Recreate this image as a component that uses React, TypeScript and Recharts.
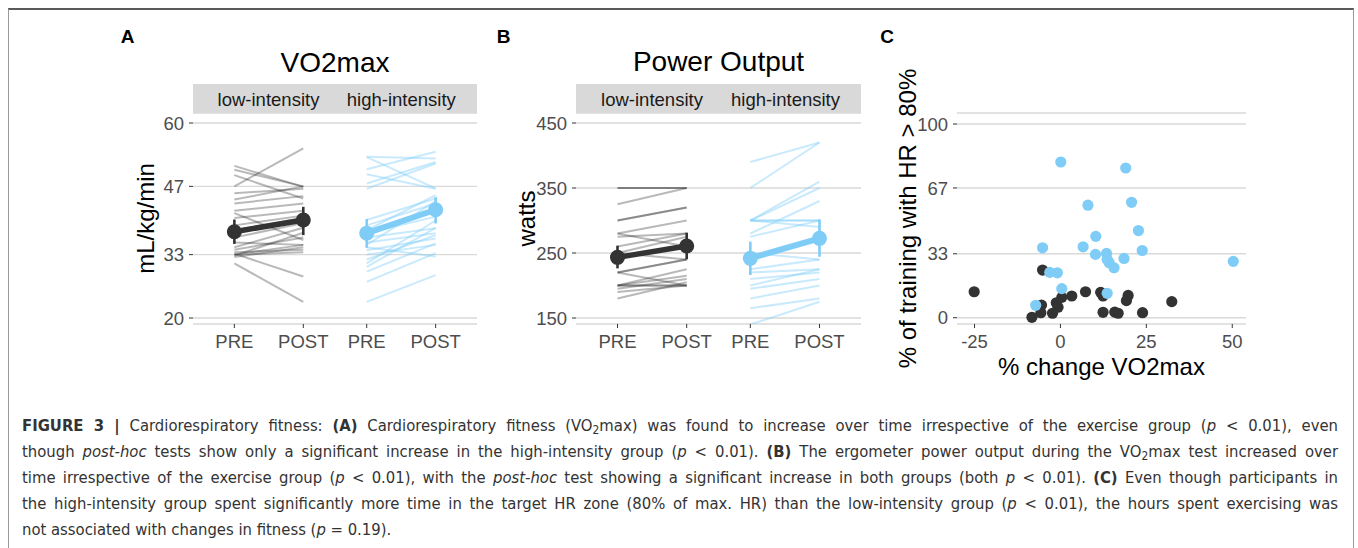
import React from 'react';
import {
  LineChart,
  Line,
  XAxis,
  YAxis,
  CartesianGrid,
  ErrorBar,
  ScatterChart,
  Scatter,
} from 'recharts';

const FONT = '"Liberation Sans", Arial, Helvetica, sans-serif';
const CAPTION_FONT = '"Liberation Sans Narrow", "Arial Narrow", "DejaVu Sans Condensed", sans-serif';
const DARK = '#333333';
const BLUE = '#7fcdf7';
const GRID = '#d9d9d9';
const TICK_TEXT = '#4d4d4d';

// shared x positions (two facets: PRE / POST each)
const timeLabels = ['PRE', 'POST', 'PRE', 'POST'];
const timePos = [1, 2, 2.92, 3.92];
const facetLabels = ['low-intensity', 'high-intensity'];

// Panel A – VO2max (mL/kg/min)
const vo2Ticks = [20, 33, 47, 60];
const lowVO2Pre = [51.2, 50.4, 49.3, 47.0, 45.6, 44.3, 43.5, 42.0, 41.5, 40.5, 39.0, 38.0, 36.5, 35.5, 34.5, 33.5, 33.0, 32.8, 32.5, 33.2, 31.2, 33.0, 34.0];
const lowVO2Post = [46.9, 47.0, 44.5, 54.8, 46.5, 47.0, 45.0, 43.5, 36.0, 42.0, 41.0, 40.5, 39.5, 35.0, 38.5, 34.0, 35.0, 37.5, 34.5, 28.5, 23.3, 33.5, 36.5];
const highVO2Pre = [53.1, 50.5, 49.5, 47.6, 46.5, 53.0, 40.1, 39.0, 38.0, 37.4, 36.5, 35.5, 35.0, 33.9, 33.0, 32.0, 31.2, 29.5, 27.4, 23.3, 34.5, 30.5];
const highVO2Post = [52.7, 54.1, 46.5, 52.0, 51.7, 46.6, 44.5, 43.5, 45.2, 40.8, 38.4, 37.4, 44.0, 36.3, 35.0, 37.0, 40.0, 35.3, 33.3, 28.8, 32.6, 38.5];
const lowVO2Mean = [37.7, 40.1];
const lowVO2Lo = [35.2, 37.0];
const lowVO2Hi = [40.2, 42.8];
const highVO2Mean = [37.4, 42.2];
const highVO2Lo = [34.4, 39.4];
const highVO2Hi = [40.3, 44.8];

// Panel B – Power output (watts)
const powTicks = [150, 250, 350, 450];
const lowPowPre = [350, 350, 325, 300, 300, 280, 275, 280, 260, 250, 250, 220, 220, 220, 200, 200, 195, 200, 200, 190, 180];
const lowPowPost = [350, 350, 350, 320, 320, 300, 280, 260, 280, 275, 240, 240, 240, 200, 225, 215, 210, 200, 200, 200, 205];
const highPowPre = [390, 350, 300, 300, 300, 300, 280, 275, 300, 225, 220, 200, 210, 195, 180, 165, 140, 250];
const highPowPost = [420, 420, 300, 300, 360, 350, 330, 300, 290, 240, 225, 225, 220, 210, 200, 180, 175, 240];
const lowPowMean = [243.3, 260.8];
const lowPowLo = [226.4, 240.3];
const lowPowHi = [261.3, 281.3];
const highPowMean = [241.8, 272.6];
const highPowLo = [216.2, 244.3];
const highPowHi = [267.4, 301.8];

// Panel C – scatter
const cXTicks = [-25, 0, 25, 50];
const cYTicks = [0, 33, 67, 100];
const lowChangeX = [-25.1, -5.2, 7.3, 11.7, 12.4, 3.3, 0.4, -1.2, -0.7, -2.3, -8.3, -5.5, -5.7, 12.4, 15.8, 16.8, 19.7, 19.2, 23.9, 32.4];
const lowHrY = [13.4, 24.6, 13.4, 13.1, 11.2, 11.2, 10.5, 7.7, 5.4, 2.3, 0.2, 6.5, 2.6, 2.8, 2.9, 2.3, 11.5, 8.8, 2.6, 8.3];
const highChangeX = [0.1, 19.0, 8.0, 20.7, 22.7, 10.3, -5.2, 6.6, 10.2, 13.4, 13.6, 14.2, 15.6, 18.5, 23.8, 50.3, -3.1, -0.9, 0.4, 13.6, -7.2];
const highHrY = [80.4, 77.3, 58.1, 59.6, 45.0, 42.0, 36.1, 36.6, 32.7, 33.2, 30.1, 28.4, 25.8, 30.6, 34.7, 29.1, 23.4, 23.2, 15.0, 12.6, 6.4];

type Pt = { x: number; y: number };

const pairLines = (pre: number[], post: number[], a: number, b: number): Pt[][] =>
  pre.map((v, i) => [
    { x: timePos[a], y: v },
    { x: timePos[b], y: post[i] },
  ]);

const meanData = (m: number[], lo: number[], hi: number[], a: number, b: number) =>
  [a, b].map((p, i) => ({ x: timePos[p], y: m[i], err: [m[i] - lo[i], hi[i] - m[i]] }));

const tickStyle = { fill: TICK_TEXT, fontSize: 18.5, fontFamily: FONT };

type PanelProps = {
  left: number;
  width: number;
  marginLeft: number;
  marginRight: number;
  yDomain: [number, number];
  yTicks: number[];
  yLabel: string;
  yLabelOffset: number;
  lowPre: number[];
  lowPost: number[];
  highPre: number[];
  highPost: number[];
  lowM: number[];
  lowLo: number[];
  lowHi: number[];
  highM: number[];
  highLo: number[];
  highHi: number[];
};

function PairedPanel(p: PanelProps) {
  const lowLines = pairLines(p.lowPre, p.lowPost, 0, 1);
  const highLines = pairLines(p.highPre, p.highPost, 2, 3);
  const lowMean = meanData(p.lowM, p.lowLo, p.lowHi, 0, 1);
  const highMean = meanData(p.highM, p.highLo, p.highHi, 2, 3);
  return (
    <div style={{ position: 'absolute', left: p.left, top: 0 }}>
      <LineChart
        width={p.width}
        height={400}
        margin={{ top: 113, right: p.marginRight, bottom: 36, left: p.marginLeft }}
      >
        <CartesianGrid vertical={false} stroke={GRID} strokeWidth={1.4} />
        <XAxis
          type="number"
          dataKey="x"
          domain={[0.4, 4.52]}
          allowDataOverflow
          ticks={timePos}
          tickFormatter={(_v: number, i: number) => timeLabels[i]}
          interval={0}
          axisLine={false}
          tickLine={{ stroke: DARK }}
          tickSize={4}
          tickMargin={7}
          height={40}
          tick={tickStyle}
        />
        <YAxis
          type="number"
          domain={p.yDomain}
          allowDataOverflow
          ticks={p.yTicks}
          interval={0}
          axisLine={false}
          tickLine={{ stroke: DARK }}
          tickSize={4}
          tickMargin={5}
          width={60}
          tick={tickStyle}
          label={{
            value: p.yLabel,
            angle: -90,
            position: 'insideLeft',
            offset: p.yLabelOffset,
            style: { textAnchor: 'middle', fontSize: 24, fill: '#000', fontFamily: FONT },
          }}
        />
        {lowLines.map((d, i) => (
          <Line
            key={'lo' + i}
            data={d}
            dataKey="y"
            stroke={DARK}
            strokeOpacity={0.34}
            strokeWidth={2}
            dot={false}
            activeDot={false}
            isAnimationActive={false}
          />
        ))}
        {highLines.map((d, i) => (
          <Line
            key={'hi' + i}
            data={d}
            dataKey="y"
            stroke={BLUE}
            strokeOpacity={0.42}
            strokeWidth={2}
            dot={false}
            activeDot={false}
            isAnimationActive={false}
          />
        ))}
        <Line
          data={lowMean}
          dataKey="y"
          stroke={DARK}
          strokeWidth={5.5}
          dot={{ r: 7.5, fill: DARK, stroke: DARK, strokeWidth: 0 }}
          activeDot={false}
          isAnimationActive={false}
        >
          <ErrorBar dataKey="err" direction="y" width={0} stroke={DARK} strokeWidth={2.6} />
        </Line>
        <Line
          data={highMean}
          dataKey="y"
          stroke={BLUE}
          strokeWidth={6}
          dot={{ r: 7.5, fill: BLUE, stroke: BLUE, strokeWidth: 0 }}
          activeDot={false}
          isAnimationActive={false}
        >
          <ErrorBar dataKey="err" direction="y" width={0} stroke={BLUE} strokeWidth={2.6} />
        </Line>
      </LineChart>
    </div>
  );
}

const Dot = (color: string) => (props: any) =>
  <circle cx={props.cx} cy={props.cy} r={5.6} fill={color} stroke="none" />;

function ScatterPanel() {
  const low = lowChangeX.map((x, i) => ({ x, y: lowHrY[i] }));
  const high = highChangeX.map((x, i) => ({ x, y: highHrY[i] }));
  return (
    <div style={{ position: 'absolute', left: 870, top: 0 }}>
      <ScatterChart width={400} height={400} margin={{ top: 113, right: 24, bottom: 21, left: 27 }}>
        <CartesianGrid vertical={false} stroke={GRID} strokeWidth={1.4} />
        <XAxis
          type="number"
          dataKey="x"
          domain={[-30.1, 54.0]}
          allowDataOverflow
          ticks={cXTicks}
          interval={0}
          axisLine={false}
          tickLine={{ stroke: DARK }}
          tickSize={4}
          tickMargin={7}
          height={55}
          tick={tickStyle}
          label={{
            value: '% change VO2max',
            position: 'insideBottom',
            offset: 4,
            style: { textAnchor: 'middle', fontSize: 24, fill: '#000', fontFamily: FONT },
          }}
        />
        <YAxis
          type="number"
          dataKey="y"
          domain={[-3.25, 105.7]}
          allowDataOverflow
          ticks={cYTicks}
          interval={0}
          axisLine={false}
          tickLine={{ stroke: DARK }}
          tickSize={4}
          tickMargin={5}
          width={60}
          tick={tickStyle}
          label={{
            value: '% of training with HR > 80%',
            angle: -90,
            position: 'insideLeft',
            offset: 10,
            style: { textAnchor: 'middle', fontSize: 24, fill: '#000', fontFamily: FONT },
          }}
        />
        <Scatter data={low} fill={DARK} shape={Dot(DARK)} isAnimationActive={false} />
        <Scatter data={high} fill={BLUE} shape={Dot(BLUE)} isAnimationActive={false} />
      </ScatterChart>
    </div>
  );
}

function Txt(props: {
  cx: number;
  cy: number;
  size: number;
  bold?: boolean;
  color?: string;
  children: React.ReactNode;
}) {
  const w = 400;
  const lh = 40;
  return (
    <div
      style={{
        position: 'absolute',
        left: props.cx - w / 2,
        top: props.cy - lh / 2,
        width: w,
        height: lh,
        lineHeight: lh + 'px',
        textAlign: 'center',
        fontSize: props.size,
        fontWeight: props.bold ? 700 : 400,
        color: props.color || '#000',
        fontFamily: FONT,
        whiteSpace: 'nowrap',
      }}
    >
      {props.children}
    </div>
  );
}

function Strip(props: { left: number; right: number; centers: number[] }) {
  return (
    <>
      <div
        style={{
          position: 'absolute',
          left: props.left,
          top: 84,
          width: props.right - props.left,
          height: 29,
          background: '#d9d9d9',
        }}
      />
      {facetLabels.map((l, i) => (
        <Txt key={l} cx={props.centers[i]} cy={99.5} size={18.5} color="#1a1a1a">
          {l}
        </Txt>
      ))}
    </>
  );
}

const Sub2 = () => (
  <sub style={{ fontSize: '0.72em', verticalAlign: '-0.25em', lineHeight: 0 }}>2</sub>
);
const P = () => <i>p</i>;

const captionLines: React.ReactNode[] = [
  <>
    <b>FIGURE 3 |</b> Cardiorespiratory fitness: <b>(A)</b> Cardiorespiratory fitness (VO<Sub2 />max) was
    found to increase over time irrespective of the exercise group (<P /> &lt; 0.01), even
  </>,
  <>
    though <i>post-hoc</i> tests show only a significant increase in the high-intensity group (<P /> &lt;
    0.01). <b>(B)</b> The ergometer power output during the VO<Sub2 />max test increased over
  </>,
  <>
    time irrespective of the exercise group (<P /> &lt; 0.01), with the <i>post-hoc</i> test showing a
    significant increase in both groups (both <P /> &lt; 0.01). <b>(C)</b> Even though participants in
  </>,
  <>
    the high-intensity group spent significantly more time in the target HR zone (80% of max. HR) than the
    low-intensity group (<P /> &lt; 0.01), the hours spent exercising was
  </>,
  <>
    not associated with changes in fitness (<P /> = 0.19).
  </>,
];

function Caption() {
  return (
    <>
      {captionLines.map((c, i) => (
        <div
          key={i}
          style={{
            position: 'absolute',
            left: 22,
            top: 412.5 + i * 26.2,
            width: 1316,
            height: 26,
            lineHeight: '26px',
            fontSize: 16.5,
            fontFamily: CAPTION_FONT,
            color: '#333',
            textAlign: 'justify',
            textAlignLast: i < 4 ? 'justify' : 'left',
          }}
        >
          {c}
        </div>
      ))}
    </>
  );
}

export default function App() {
  return (
    <div
      style={{
        position: 'absolute',
        left: 0,
        top: 0,
        width: 1358,
        height: 548,
        background: '#fff',
        overflow: 'hidden',
        fontFamily: FONT,
      }}
    >
      <div
        style={{
          position: 'absolute',
          left: 8,
          top: 8,
          width: 1346,
          height: 560,
          borderTop: '2px solid #5a5a5a',
          borderLeft: '1px solid #9a9a9a',
          borderRight: '1px solid #9a9a9a',
          boxSizing: 'border-box',
        }}
      />
      <Txt cx={127.5} cy={37} size={19} bold>
        A
      </Txt>
      <Txt cx={503.5} cy={37} size={19} bold>
        B
      </Txt>
      <Txt cx={887} cy={36.5} size={19} bold>
        C
      </Txt>
      <Txt cx={335} cy={62.5} size={28}>
        VO2max
      </Txt>
      <Txt cx={718.5} cy={62} size={28}>
        Power Output
      </Txt>
      <Strip left={193} right={477} centers={[268.5, 401.3]} />
      <Strip left={576} right={861} centers={[652, 785.5]} />
      <PairedPanel
        left={0}
        width={490}
        marginLeft={133}
        marginRight={13}
        yDomain={[18.77, 62.05]}
        yTicks={vo2Ticks}
        yLabel="mL/kg/min"
        yLabelOffset={12}
        lowPre={lowVO2Pre}
        lowPost={lowVO2Post}
        highPre={highVO2Pre}
        highPost={highVO2Post}
        lowM={lowVO2Mean}
        lowLo={lowVO2Lo}
        lowHi={lowVO2Hi}
        highM={highVO2Mean}
        highLo={highVO2Lo}
        highHi={highVO2Hi}
      />
      <PairedPanel
        left={480}
        width={400}
        marginLeft={36}
        marginRight={19}
        yDomain={[140.8, 465.4]}
        yTicks={powTicks}
        yLabel="watts"
        yLabelOffset={10.5}
        lowPre={lowPowPre}
        lowPost={lowPowPost}
        highPre={highPowPre}
        highPost={highPowPost}
        lowM={lowPowMean}
        lowLo={lowPowLo}
        lowHi={lowPowHi}
        highM={highPowMean}
        highLo={highPowLo}
        highHi={highPowHi}
      />
      <ScatterPanel />
      <Caption />
    </div>
  );
}
